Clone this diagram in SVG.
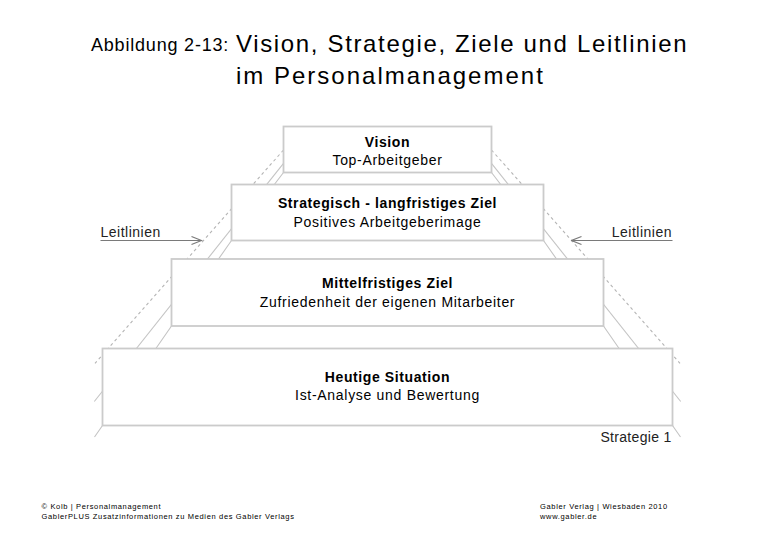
<svg xmlns="http://www.w3.org/2000/svg" width="780" height="540" viewBox="0 0 780 540">
  <defs>
    <marker id="arr" viewBox="0 0 12 10" refX="11" refY="5" markerWidth="12" markerHeight="10" markerUnits="userSpaceOnUse" orient="auto">
      <path d="M1,1 L11,5 L1,9" fill="none" stroke="#7a7a7a" stroke-width="1.1"/>
    </marker>
  </defs>
  <style>
    text { font-family: "Liberation Sans", Arial, sans-serif; fill: #000; }
    .box { fill: #fff; stroke: #cbcbcb; stroke-width: 1.8; }
    .b { font-size: 14px; font-weight: bold; letter-spacing: 0.6px; text-anchor: middle; }
    .r { font-size: 14px; letter-spacing: 0.7px; text-anchor: middle; }
    .edge { fill: none; stroke: #c4c4c4; stroke-width: 1.1; }
    .dash { fill: none; stroke: #b4b4b4; stroke-width: 1.1; stroke-dasharray: 3 3; }
    .arrow { fill: none; stroke: #7a7a7a; stroke-width: 1.1; }
    .lbl { font-size: 14px; letter-spacing: 0.5px; fill: #222; }
    .foot { font-size: 7.5px; letter-spacing: 0.65px; }
  </style>
  <rect width="780" height="540" fill="#fff"/>

  <g id="title">
    <text x="91" y="51" style="font-size:18px;letter-spacing:0.8px">Abbildung 2-13:</text>
    <text x="236" y="52" style="font-size:24px;letter-spacing:1.65px">Vision, Strategie, Ziele und Leitlinien</text>
    <text x="236" y="84" style="font-size:24px;letter-spacing:2px">im Personalmanagement</text>
  </g>

  <g id="connectors">
    <line class="dash" x1="283.5" y1="150" x2="95" y2="363.3"/>
    <line class="edge" x1="283.5" y1="163.3" x2="94.3" y2="401.5"/>
    <polyline class="edge" points="283.5,172.5 231.5,240.5 171.5,326 102.5,425.5 94.5,437"/>
    <line class="dash" x1="491.5" y1="150" x2="680" y2="363.3"/>
    <line class="edge" x1="491.5" y1="163.3" x2="680.7" y2="401.5"/>
    <polyline class="edge" points="491.5,172.5 543.5,240.5 603.5,326 672.5,425.5 680.5,437"/>
    <line class="arrow" x1="100.5" y1="240.5" x2="201.5" y2="240.5" marker-end="url(#arr)"/>
    <line class="arrow" x1="672.5" y1="240.5" x2="571.5" y2="240.5" marker-end="url(#arr)"/>
  </g>

  <g id="heutige">
    <rect class="box" x="102.5" y="348.5" width="570" height="77"/>
    <text class="b" x="387.5" y="381.5">Heutige Situation</text>
    <text class="r" x="387.5" y="400">Ist-Analyse und Bewertung</text>
  </g>
  <g id="mittelfristig">
    <rect class="box" x="171.5" y="259" width="432" height="67"/>
    <text class="b" x="387.5" y="288.3">Mittelfristiges Ziel</text>
    <text class="r" x="387.5" y="307.3">Zufriedenheit der eigenen Mitarbeiter</text>
  </g>
  <g id="strategisch">
    <rect class="box" x="231.5" y="184.5" width="312" height="56"/>
    <text class="b" x="387.5" y="208.3">Strategisch - langfristiges Ziel</text>
    <text class="r" x="387.5" y="226.7">Positives Arbeitgeberimage</text>
  </g>
  <g id="vision">
    <rect class="box" x="283.5" y="126.5" width="208" height="46"/>
    <text class="b" x="387.5" y="146.5">Vision</text>
    <text class="r" x="387.5" y="165">Top-Arbeitgeber</text>
  </g>

  <g id="leitlinien-links">
    <text class="lbl" x="100.5" y="236.5">Leitlinien</text>
  </g>
  <g id="leitlinien-rechts">
    <text class="lbl" x="672" y="236.5" text-anchor="end">Leitlinien</text>
  </g>
  <g id="strategie1">
    <text class="lbl" x="671.5" y="441.7" text-anchor="end" style="letter-spacing:0.3px">Strategie 1</text>
  </g>

  <g id="footer">
    <text class="foot" x="41.5" y="508.5">© Kolb | Personalmanagement</text>
    <text class="foot" x="41.5" y="518.5">GablerPLUS Zusatzinformationen zu Medien des Gabler Verlags</text>
    <text class="foot" x="540" y="508.5">Gabler Verlag | Wiesbaden 2010</text>
    <text class="foot" x="540" y="518.5">www.gabler.de</text>
  </g>
</svg>
